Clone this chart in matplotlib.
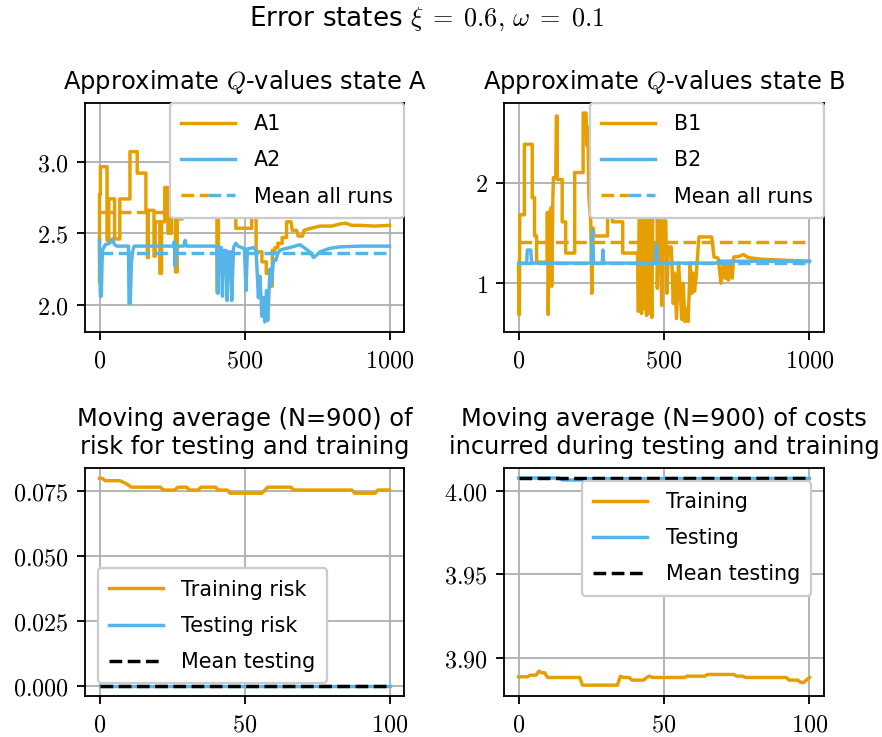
import matplotlib
matplotlib.use("Agg")
import matplotlib.pyplot as plt
from matplotlib.legend_handler import HandlerTuple
from matplotlib.ticker import FuncFormatter, FixedLocator

# ---------------------------------------------------------------- data ----
# Q-value traces for state A (episode, value) vertices
a1_x = [0, 0, 3, 3, 26, 26, 32, 32, 52, 52, 70, 70, 105, 105, 130, 130, 160, 160,
        165, 165, 168, 168, 188, 188, 192, 192, 208, 208, 214, 214, 225, 225, 236,
        236, 248, 248, 262, 262, 268, 268, 285, 285, 330, 330, 380, 380, 405, 405,
        410, 410, 470, 470, 525, 525, 540, 540, 560, 560, 575, 575, 590, 590, 596,
        596, 605, 605, 615, 615, 630, 630, 645, 645, 660, 665, 680, 685, 700, 705,
        720, 760, 800, 830, 850, 870, 900, 950, 1000]
a1_y = [2.16, 2.77, 2.77, 2.965, 2.965, 2.45, 2.45, 2.74, 2.74, 2.46, 2.46, 2.74,
        2.74, 3.07, 3.07, 2.92, 2.92, 2.66, 2.66, 2.33, 2.33, 2.66, 2.66, 2.34,
        2.34, 2.58, 2.58, 2.22, 2.22, 2.58, 2.58, 2.82, 2.82, 2.50, 2.50, 2.63,
        2.63, 2.23, 2.23, 2.60, 2.60, 2.90, 2.90, 3.30, 3.30, 2.80, 2.80, 2.09,
        2.09, 2.85, 2.85, 2.535, 2.535, 2.85, 2.85, 2.37, 2.37, 2.30, 2.30, 2.22,
        2.22, 2.13, 2.13, 2.38, 2.38, 2.40, 2.40, 2.43, 2.43, 2.47, 2.47, 2.58,
        2.58, 2.52, 2.52, 2.48, 2.48, 2.52, 2.53, 2.55, 2.55, 2.565, 2.57, 2.555,
        2.555, 2.55, 2.555]
a2_x = [0, 0, 3, 6, 10, 20, 35, 44, 52, 60, 100, 102, 106, 110, 115, 120, 255, 258,
        261, 264, 290, 295, 300, 405, 408, 412, 420, 424, 428, 436, 440, 445, 452,
        456, 462, 470, 478, 490, 500, 505, 510, 530, 540, 548, 553, 560, 565, 570,
        576, 580, 588, 593, 600, 608, 615, 622, 635, 656, 691, 705, 725, 738, 750,
        760, 795, 830, 900, 1000]
a2_y = [2.45, 2.40, 2.06, 2.06, 2.38, 2.42, 2.43, 2.46, 2.42, 2.41, 2.41, 2.01,
        2.01, 2.30, 2.38, 2.41, 2.41, 2.44, 2.27, 2.41, 2.41, 2.45, 2.41, 2.41,
        2.08, 2.40, 2.40, 2.06, 2.38, 2.38, 2.03, 2.37, 2.37, 2.03, 2.40, 2.43,
        2.41, 2.40, 2.39, 2.10, 2.39, 2.40, 2.38, 2.05, 2.20, 1.92, 2.05, 1.88,
        2.10, 1.89, 2.25, 2.14, 2.32, 2.31, 2.36, 2.38, 2.39, 2.40, 2.42, 2.40,
        2.37, 2.33, 2.35, 2.37, 2.395, 2.405, 2.41, 2.41]
a1_mean = 2.651
a2_mean = 2.365

# Q-value traces for state B
b1_x = [0, 1, 3, 4, 20, 20, 47, 47, 55, 55, 62, 62, 98, 98, 100, 102, 106, 112,
        114, 118, 120, 128, 130, 133, 133, 150, 150, 162, 162, 193, 193, 222, 222,
        232, 235, 238, 242, 248, 252, 256, 260, 306, 306, 323, 323, 358, 358, 409,
        412, 415, 420, 423, 427, 432, 436, 440, 444, 448, 452, 458, 462, 476, 477,
        480, 486, 492, 498, 506, 510, 515, 525, 532, 536, 543, 550, 556, 561, 566,
        572, 578, 583, 590, 596, 600, 605, 610, 620, 664, 672, 686, 696, 703, 710,
        716, 721, 727, 734, 740, 760, 773, 790, 830, 900, 1000]
b1_y = [1.18, 0.69, 0.69, 1.68, 1.68, 2.38, 2.38, 1.85, 1.85, 1.47, 1.47, 1.21,
        1.21, 1.70, 1.70, 0.69, 1.70, 1.75, 0.97, 1.85, 2.05, 2.05, 2.66, 2.66,
        2.03, 2.03, 1.61, 1.61, 1.30, 1.30, 2.10, 2.10, 2.69, 2.69, 2.37, 2.55,
        1.85, 1.62, 0.90, 1.55, 1.47, 1.47, 1.95, 1.95, 1.61, 1.61, 1.30, 1.30,
        0.72, 1.90, 1.90, 0.70, 1.90, 0.75, 1.90, 0.68, 1.90, 0.70, 1.90, 0.66,
        1.90, 1.90, 0.95, 1.55, 1.66, 0.78, 1.62, 1.62, 0.90, 1.36, 1.36, 0.80,
        1.10, 0.65, 1.20, 0.90, 0.64, 1.00, 0.62, 0.75, 0.62, 1.20, 0.90, 1.10,
        0.92, 1.05, 1.46, 1.46, 1.26, 1.25, 1.00, 1.18, 1.05, 1.20, 1.03, 1.18,
        1.05, 1.26, 1.27, 1.285, 1.255, 1.24, 1.23, 1.22]
b2_x = [0, 28, 30, 42, 45, 250, 254, 258, 288, 290, 293, 470, 473, 477, 680, 690,
        1000]
b2_y = [1.20, 1.20, 1.33, 1.33, 1.20, 1.20, 1.52, 1.20, 1.20, 1.33, 1.20, 1.20,
        1.39, 1.20, 1.20, 1.22, 1.215]
b1_mean = 1.405
b2_mean = 1.205

# Moving-average risk (evaluation index, value)
risk_train_x = [0, 1, 2, 7, 9, 11, 21, 22, 26, 27, 30, 31, 34, 35, 40, 41, 44, 45,
                56, 58, 66, 67, 87, 88, 95, 96, 100]
risk_train_y = [0.0799, 0.0799, 0.0790, 0.0790, 0.0780, 0.0765, 0.0765, 0.0754,
                0.0754, 0.0765, 0.0765, 0.0754, 0.0754, 0.0765, 0.0765, 0.0754,
                0.0754, 0.0742, 0.0742, 0.0765, 0.0765, 0.0754, 0.0754, 0.0742,
                0.0742, 0.0754, 0.0754]
risk_test_x = [0, 100]
risk_test_y = [0.0, 0.0]
risk_test_mean = 0.0

# Moving-average costs
cost_train_x = [0, 3, 4, 6, 7, 8, 9, 10, 21, 22, 34, 35, 36, 38, 39, 43, 44, 45,
                46, 57, 58, 64, 65, 74, 75, 77, 78, 92, 93, 96, 97, 98, 100]
cost_train_y = [3.8885, 3.8885, 3.8895, 3.8895, 3.8919, 3.8909, 3.8909, 3.8881,
                3.8881, 3.8835, 3.8835, 3.8889, 3.8881, 3.8881, 3.8865, 3.8865,
                3.8881, 3.8889, 3.8881, 3.8881, 3.8889, 3.8889, 3.8899, 3.8899,
                3.8889, 3.8889, 3.8881, 3.8881, 3.8865, 3.8865, 3.8851, 3.8851,
                3.8881]
cost_test_x = [0, 14, 15, 22, 23, 100]
cost_test_y = [4.0076, 4.0076, 4.0064, 4.0064, 4.0072, 4.0074]
cost_test_mean = 4.0076

# ------------------------------------------------------------- styling ----
ORANGE = "#E69F00"
BLUE = "#56B4E9"
DPI = 165

plt.rcParams.update({
    "font.family": ["DejaVu Sans"],
    "mathtext.fontset": "cm",
    "axes.grid": True,
    "grid.color": "#b0b0b0",
    "grid.linewidth": 0.8,
    "xtick.labelsize": 10.5,
    "ytick.labelsize": 10.5,
    "legend.fontsize": 9,
    "lines.linewidth": 1.5,
})

W, H = 882, 737
fig = plt.figure(figsize=(W / DPI, H / DPI), dpi=DPI)


def px_axes(left, top, right, bottom):
    return fig.add_axes([left / W, 1 - bottom / H, (right - left) / W, (bottom - top) / H])


ax_a = px_axes(85, 103, 404, 332)
ax_b = px_axes(504, 103, 824, 332)
ax_r = px_axes(85, 468, 404, 696)
ax_c = px_axes(504, 468, 824, 696)


def math_fmt(fmt):
    return FuncFormatter(lambda v, pos: "$" + format(v, fmt) + "$")


legend_kw = dict(handlelength=2.6, handletextpad=0.9, framealpha=1.0,
                 labelspacing=0.78, borderpad=0.55)
tuple_map = {tuple: HandlerTuple(ndivide=None, pad=0)}
span = dict(xmin=0.0455, xmax=0.9545)

# State A
ax_a.plot(a1_x, a1_y, color=ORANGE, label="A1")
ax_a.plot(a2_x, a2_y, color=BLUE, label="A2")
ma1 = ax_a.axhline(a1_mean, color=ORANGE, ls="--", **span)
ma2 = ax_a.axhline(a2_mean, color=BLUE, ls="--", **span)
ax_a.set_xlim(-50, 1050)
ax_a.set_ylim(1.81, 3.41)
ax_a.xaxis.set_major_locator(FixedLocator([0, 500, 1000]))
ax_a.yaxis.set_major_locator(FixedLocator([2.0, 2.5, 3.0]))
ax_a.xaxis.set_major_formatter(math_fmt(".0f"))
ax_a.yaxis.set_major_formatter(math_fmt(".1f"))
ax_a.set_title(r"Approximate $Q$-values state A", fontsize=10.5)
h, l = ax_a.get_legend_handles_labels()
ax_a.legend(h + [(ma1, ma2)], l + ["Mean all runs"], loc="upper right",
            borderaxespad=0.0, handler_map=tuple_map, **legend_kw)

# State B
ax_b.plot(b1_x, b1_y, color=ORANGE, label="B1")
ax_b.plot(b2_x, b2_y, color=BLUE, label="B2")
mb1 = ax_b.axhline(b1_mean, color=ORANGE, ls="--", **span)
mb2 = ax_b.axhline(b2_mean, color=BLUE, ls="--", **span)
ax_b.set_xlim(-50, 1050)
ax_b.set_ylim(0.516, 2.79)
ax_b.xaxis.set_major_locator(FixedLocator([0, 500, 1000]))
ax_b.yaxis.set_major_locator(FixedLocator([1, 2]))
ax_b.xaxis.set_major_formatter(math_fmt(".0f"))
ax_b.yaxis.set_major_formatter(math_fmt(".0f"))
ax_b.set_title(r"Approximate $Q$-values state B", fontsize=10.5)
h, l = ax_b.get_legend_handles_labels()
ax_b.legend(h + [(mb1, mb2)], l + ["Mean all runs"], loc="upper right",
            borderaxespad=0.0, handler_map=tuple_map, **legend_kw)

# Risk
ax_r.plot(risk_train_x, risk_train_y, color=ORANGE, label="Training risk")
ax_r.plot(risk_test_x, risk_test_y, color=BLUE, label="Testing risk")
ax_r.axhline(risk_test_mean, color="black", ls="--", label="Mean testing", **span)
ax_r.set_xlim(-5, 105)
ax_r.set_ylim(-0.004, 0.0839)
ax_r.xaxis.set_major_locator(FixedLocator([0, 50, 100]))
ax_r.yaxis.set_major_locator(FixedLocator([0.0, 0.025, 0.05, 0.075]))
ax_r.xaxis.set_major_formatter(math_fmt(".0f"))
ax_r.yaxis.set_major_formatter(math_fmt(".3f"))
ax_r.set_title("Moving average (N=900) of\nrisk for testing and training", fontsize=10.5)
ax_r.legend(loc="lower left", borderaxespad=0.62, **legend_kw)

# Costs
ax_c.plot(cost_train_x, cost_train_y, color=ORANGE, label="Training")
ax_c.plot(cost_test_x, cost_test_y, color=BLUE, label="Testing")
ax_c.axhline(cost_test_mean, color="black", ls="--", label="Mean testing", **span)
ax_c.set_xlim(-5, 105)
ax_c.set_ylim(3.877, 4.0136)
ax_c.xaxis.set_major_locator(FixedLocator([0, 50, 100]))
ax_c.yaxis.set_major_locator(FixedLocator([3.90, 3.95, 4.00]))
ax_c.xaxis.set_major_formatter(math_fmt(".0f"))
ax_c.yaxis.set_major_formatter(math_fmt(".2f"))
ax_c.set_title("Moving average (N=900) of costs\nincurred during testing and training",
               fontsize=10.5)
ax_c.legend(loc="upper right", borderaxespad=0.62, **legend_kw)

fig.text(427 / W, 1 - 26 / H, r"Error states $\xi\;=\;0.6,\,\omega\;=\;0.1$",
         ha="center", va="baseline", fontsize=11.4)

fig.savefig("out.png", dpi=DPI)
